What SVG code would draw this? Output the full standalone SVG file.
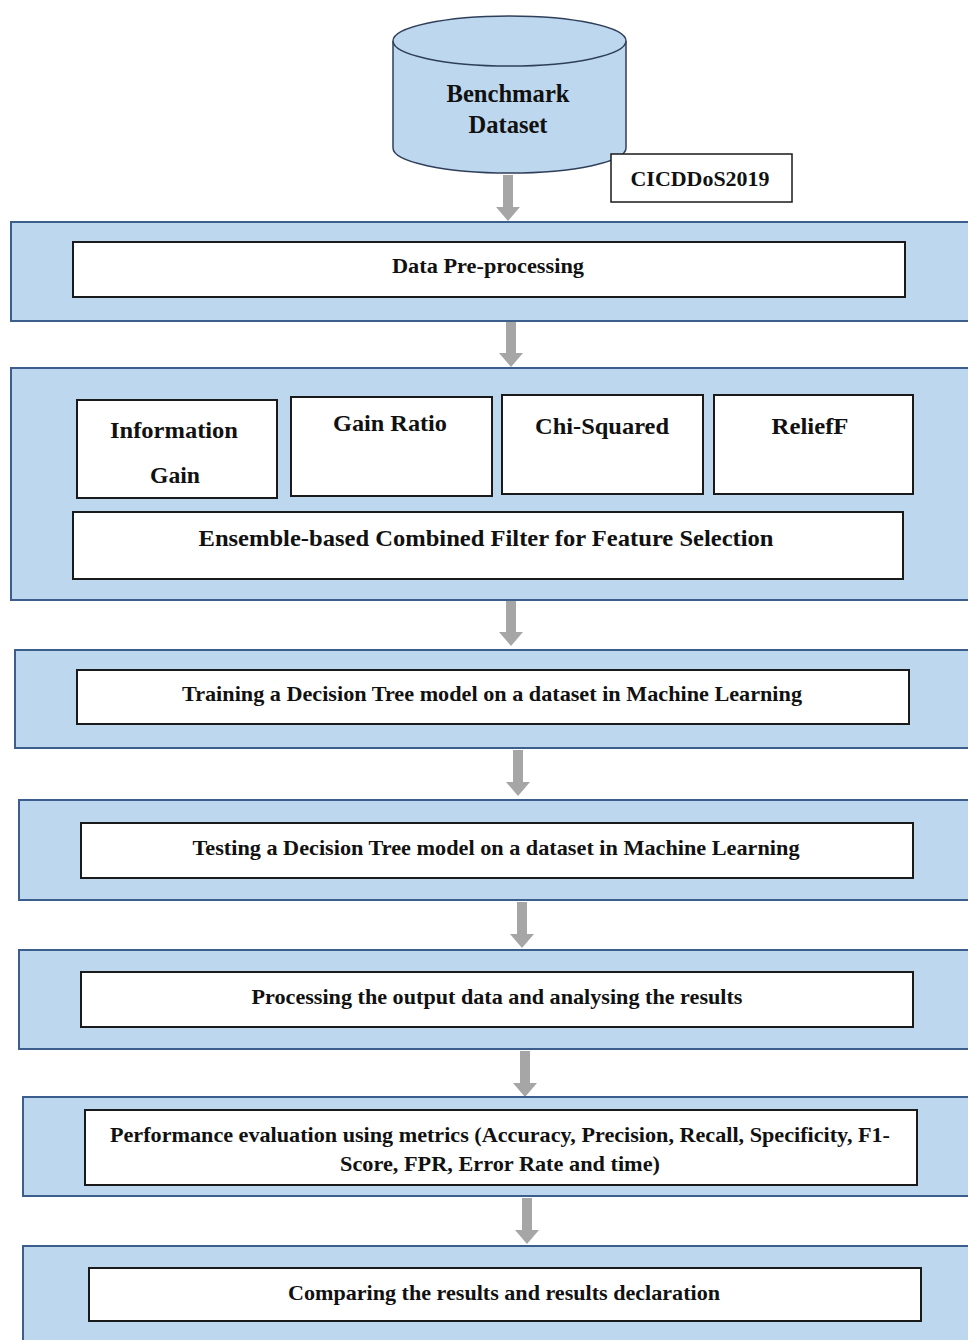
<svg xmlns="http://www.w3.org/2000/svg" width="968" height="1340" viewBox="0 0 968 1340">
<style>
.outer{fill:#BDD7EE;stroke:#3B5E8C;stroke-width:2}
.inner{fill:#FFFFFF;stroke:#1A1A1A;stroke-width:2}
.t{font-family:"Liberation Serif","Times New Roman",serif;font-weight:bold;fill:#111;text-anchor:middle}
.s20{font-size:20px}.s22{font-size:22px}.s24{font-size:24px}.s26{font-size:26px}
.arr{fill:#A6A6A6}
</style>
<rect width="968" height="1340" fill="#FFFFFF"/>
<g id="connectors">
<path class="arr" d="M503 175h10v32h7l-12 14l-12-14h7z"/>
<path class="arr" d="M506 321h10v32h7l-12 14l-12-14h7z"/>
<path class="arr" d="M506 600h10v32h7l-12 14l-12-14h7z"/>
<path class="arr" d="M513 750h10v32h7l-12 14l-12-14h7z"/>
<path class="arr" d="M517 902h10v32h7l-12 14l-12-14h7z"/>
<path class="arr" d="M520 1051h10v32h7l-12 14l-12-14h7z"/>
<path class="arr" d="M522 1198h10v32h7l-12 14l-12-14h7z"/>
</g>
<g id="dataset">
<path d="M393 41v107a116.5 25 0 0 0 233 0v-107" fill="#BDD7EE" stroke="#2F3F5A" stroke-width="1.5"/>
<ellipse cx="509.5" cy="41" rx="116.5" ry="25" fill="#BDD7EE" stroke="#2F3F5A" stroke-width="1.5"/>
<text class="t s26" x="508" y="102" textLength="123" lengthAdjust="spacingAndGlyphs">Benchmark</text>
<text class="t s26" x="508" y="133" textLength="79" lengthAdjust="spacingAndGlyphs">Dataset</text>
</g>
<g id="cicddos">
<rect x="611" y="154" width="181" height="48" fill="#FFFFFF" stroke="#1A1A1A" stroke-width="1.5"/>
<text class="t s22" x="700" y="186" textLength="139" lengthAdjust="spacingAndGlyphs">CICDDoS2019</text>
</g>
<g id="preprocessing">
<rect class="outer" x="11" y="222" width="960" height="99"/>
<rect class="inner" x="73" y="242" width="832" height="55"/>
<text class="t s20" x="488" y="273" textLength="192" lengthAdjust="spacingAndGlyphs">Data Pre-processing</text>
</g>
<g id="feature-selection">
<rect class="outer" x="11" y="368" width="960" height="232"/>
<g id="info-gain">
<rect class="inner" x="77" y="400" width="200" height="98"/>
<text class="t s24" x="174" y="438" textLength="128" lengthAdjust="spacingAndGlyphs">Information</text>
<text class="t s24" x="175" y="483" textLength="50" lengthAdjust="spacingAndGlyphs">Gain</text>
</g>
<g id="gain-ratio">
<rect class="inner" x="291" y="397" width="201" height="99"/>
<text class="t s24" x="390" y="431" textLength="114" lengthAdjust="spacingAndGlyphs">Gain Ratio</text>
</g>
<g id="chi-squared">
<rect class="inner" x="502" y="395" width="201" height="99"/>
<text class="t s24" x="602" y="434" textLength="134" lengthAdjust="spacingAndGlyphs">Chi-Squared</text>
</g>
<g id="relieff">
<rect class="inner" x="714" y="395" width="199" height="99"/>
<text class="t s24" x="810" y="434" textLength="77" lengthAdjust="spacingAndGlyphs">ReliefF</text>
</g>
<g id="ensemble">
<rect class="inner" x="73" y="512" width="830" height="67"/>
<text class="t s24" x="486" y="546" textLength="575" lengthAdjust="spacingAndGlyphs">Ensemble-based Combined Filter for Feature Selection</text>
</g>
</g>
<g id="training">
<rect class="outer" x="15" y="650" width="960" height="98"/>
<rect class="inner" x="77" y="670" width="832" height="54"/>
<text class="t s22" x="492" y="701" textLength="620" lengthAdjust="spacingAndGlyphs">Training a Decision Tree model on a dataset in Machine Learning</text>
</g>
<g id="testing">
<rect class="outer" x="19" y="800" width="960" height="100"/>
<rect class="inner" x="81" y="823" width="832" height="55"/>
<text class="t s22" x="496" y="855" textLength="607" lengthAdjust="spacingAndGlyphs">Testing a Decision Tree model on a dataset in Machine Learning</text>
</g>
<g id="processing">
<rect class="outer" x="19" y="950" width="960" height="99"/>
<rect class="inner" x="81" y="972" width="832" height="55"/>
<text class="t s22" x="497" y="1004" textLength="491" lengthAdjust="spacingAndGlyphs">Processing the output data and analysing the results</text>
</g>
<g id="evaluation">
<rect class="outer" x="23" y="1097" width="960" height="99"/>
<rect class="inner" x="85" y="1110" width="832" height="75"/>
<text class="t s22" x="500" y="1142" textLength="780" lengthAdjust="spacingAndGlyphs">Performance evaluation using metrics (Accuracy, Precision, Recall, Specificity, F1-</text>
<text class="t s22" x="500" y="1171" textLength="320" lengthAdjust="spacingAndGlyphs">Score, FPR, Error Rate and time)</text>
</g>
<g id="comparing">
<rect class="outer" x="23" y="1246" width="960" height="110"/>
<rect class="inner" x="89" y="1268" width="832" height="53"/>
<text class="t s22" x="504" y="1300" textLength="432" lengthAdjust="spacingAndGlyphs">Comparing the results and results declaration</text>
</g>
</svg>
